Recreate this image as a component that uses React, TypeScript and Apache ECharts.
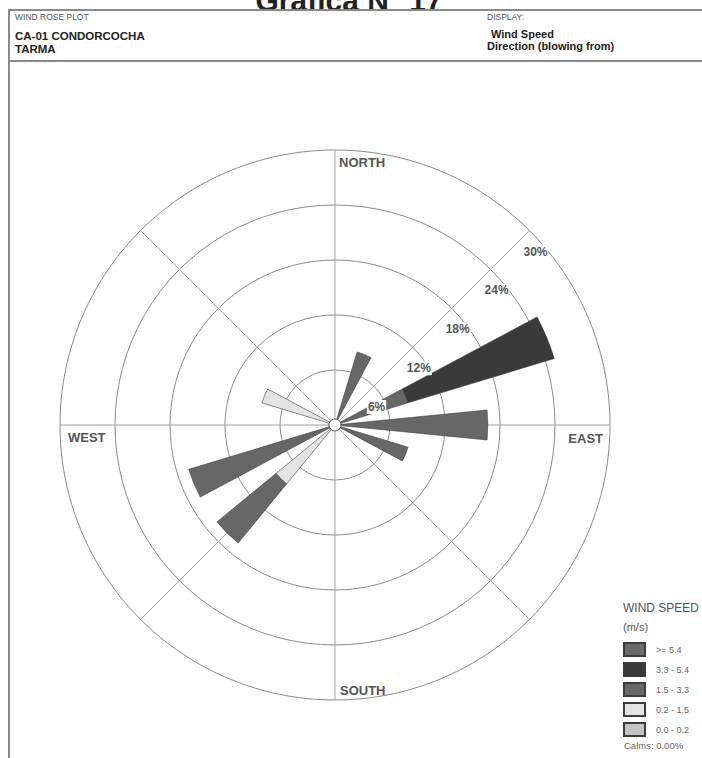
import { useEffect, useRef } from "react";
import * as echarts from "echarts";

// 16 compass sectors, clockwise from north
const directions = ["N", "NNE", "NE", "ENE", "E", "ESE", "SE", "SSE", "S", "SSW", "SW", "WSW", "W", "WNW", "NW", "NNW"];

// Frequency (%) per sector and speed class (m/s); null = no observations
const speed00_02 = [null, null, null, null, null, null, null, null, null, null, null, null, null, null, null, null];
const speed02_15 = [null, null, null, null, null, null, null, null, null, null, 8.33, null, null, 8.33, null, null];
const speed15_33 = [null, 8.33, null, 8.33, 16.67, 8.33, null, null, null, null, 8.33, 16.67, null, null, null, null];
const speed33_54 = [null, null, null, 16.67, null, null, null, null, null, null, null, null, null, null, null, null];
const speed54up = [null, null, null, null, null, null, null, null, null, null, null, null, null, null, null, null];

const classNames = ["0.0 - 0.2", "0.2 - 1.5", "1.5 - 3.3", "3.3 - 5.4", ">= 5.4"];
const classColors = ["#c4c4c4", "#e4e4e4", "#676767", "#3a3a3a", "#6b6b6b"];

const ringTicks = [6, 12, 18, 24, 30];
const calmsText = "Calms: 0.00%";

const FONT = "'Liberation Sans', Arial, Helvetica, sans-serif";
const CX = 335;
const CY = 425;
const R = 275;
const MAX_PCT = 30;

export default function App() {
  const ref = useRef<HTMLDivElement>(null);

  useEffect(() => {
    if (!ref.current) return;
    const chart = echarts.init(ref.current, undefined, { renderer: "svg" });

    const seriesData = [speed00_02, speed02_15, speed15_33, speed33_54, speed54up];
    const series = seriesData.map((data, i) => ({
      type: "bar",
      name: classNames[i],
      coordinateSystem: "polar",
      polarIndex: 0,
      stack: "rose",
      barWidth: "50%",
      data,
      silent: true,
      itemStyle: { color: classColors[i], borderColor: "#3c3c3c", borderWidth: 0.6 },
      z: 3,
    }));

    const ringRadius = (pct: number) => (pct / MAX_PCT) * R;
    const diag = Math.SQRT1_2;

    const ringLabels = ringTicks.map((t) => ({
      type: "text",
      x: CX + ringRadius(t) * diag - 7,
      y: CY - ringRadius(t) * diag + 21,
      z: 20,
      style: {
        text: `${t}%`,
        font: `bold 12px ${FONT}`,
        fill: "#555",
        backgroundColor: "#fff",
        padding: [1, 1],
        align: "left",
        verticalAlign: "middle",
        textAlign: "left",
        textVerticalAlign: "middle",
      },
    }));

    const compassStyle = (text: string, align: string) => ({
      text,
      font: `bold 13px ${FONT}`,
      fill: "#555",
      align,
      textAlign: align,
      verticalAlign: "middle",
      textVerticalAlign: "middle",
    });

    const txt = (x: number, y: number, text: string, font: string, fill: string, align = "left", vAlign = "middle") => ({
      type: "text",
      x,
      y,
      z: 20,
      style: { text, font, fill, align, textAlign: align, verticalAlign: vAlign, textVerticalAlign: vAlign },
    });

    const lineEl = (x1: number, y1: number, x2: number, y2: number, w = 2) => ({
      type: "line",
      z: 20,
      shape: { x1, y1, x2, y2 },
      style: { stroke: "#8a8a8a", lineWidth: w },
    });

    chart.setOption({
      animation: false,
      backgroundColor: "#ffffff",
      polar: [
        { center: [CX, CY], radius: R },
        { center: [CX, CY], radius: R },
      ],
      angleAxis: [
        {
          polarIndex: 0,
          type: "category",
          data: directions,
          startAngle: 90 + 360 / directions.length / 2,
          clockwise: true,
          axisLine: { show: false },
          axisTick: { show: false },
          axisLabel: { show: false },
          splitLine: { show: false },
        },
        {
          polarIndex: 1,
          type: "value",
          min: 0,
          max: 360,
          interval: 45,
          startAngle: 90,
          clockwise: true,
          axisLine: { show: false },
          axisTick: { show: false },
          axisLabel: { show: false },
          splitLine: { show: true, lineStyle: { color: "#a2a2a2", width: 1 } },
        },
      ],
      radiusAxis: [
        {
          polarIndex: 0,
          type: "value",
          min: 0,
          max: MAX_PCT,
          interval: 6,
          axisLine: { show: false },
          axisTick: { show: false },
          axisLabel: { show: false },
          splitLine: { show: true, lineStyle: { color: "#8a8a8a", width: 1 } },
        },
        {
          polarIndex: 1,
          type: "value",
          min: 0,
          max: MAX_PCT,
          axisLine: { show: false },
          axisTick: { show: false },
          axisLabel: { show: false },
          splitLine: { show: false },
        },
      ],
      legend: {
        orient: "vertical",
        left: 623,
        top: 642,
        padding: 0,
        itemWidth: 21,
        itemHeight: 13,
        itemGap: 5,
        icon: "rect",
        selectedMode: false,
        data: [...classNames].reverse(),
        textStyle: { fontFamily: FONT, fontSize: 9, color: "#666", padding: [0, 0, 0, 6] },
      },
      series,
      graphic: [
        // page title
        txt(349, 15, "Gráfica N° 17", `bold 30px ${FONT}`, "#222", "center", "bottom"),
        // frame
        lineEl(8, 10, 702, 10),
        lineEl(9, 10, 9, 758),
        lineEl(8, 61, 702, 61),
        // header
        txt(15, 17, "WIND ROSE PLOT", `8.5px ${FONT}`, "#555"),
        txt(15, 36, "CA-01 CONDORCOCHA", `bold 11.5px ${FONT}`, "#222"),
        txt(15, 49, "TARMA", `bold 11.5px ${FONT}`, "#222"),
        txt(487, 17, "DISPLAY:", `8.5px ${FONT}`, "#555"),
        txt(491, 34, "Wind Speed", `bold 11px ${FONT}`, "#222"),
        txt(487, 46, "Direction (blowing from)", `bold 11px ${FONT}`, "#222"),
        // compass labels
        { type: "text", x: CX + 4, y: CY - R + 12, z: 20, style: compassStyle("NORTH", "left") },
        { type: "text", x: CX + R - 7, y: CY + 13, z: 20, style: compassStyle("EAST", "right") },
        { type: "text", x: CX + 5, y: CY + R - 10, z: 20, style: compassStyle("SOUTH", "left") },
        { type: "text", x: CX - R + 8, y: CY + 12, z: 20, style: compassStyle("WEST", "left") },
        ...ringLabels,
        // calm circle at the center
        {
          type: "circle",
          z: 30,
          shape: { cx: CX, cy: CY, r: 6 },
          style: { fill: "#fff", stroke: "#555", lineWidth: 1 },
        },
        // legend heading and calms
        txt(623, 608, "WIND SPEED", `12px ${FONT}`, "#555"),
        txt(623, 627, "(m/s)", `11px ${FONT}`, "#555"),
        txt(624, 745, calmsText, `9.5px ${FONT}`, "#666"),
      ],
    });

    return () => chart.dispose();
  }, []);

  return (
    <div
      ref={ref}
      style={{ position: "fixed", left: 0, top: 0, width: 702, height: 758, background: "#fff" }}
    />
  );
}
